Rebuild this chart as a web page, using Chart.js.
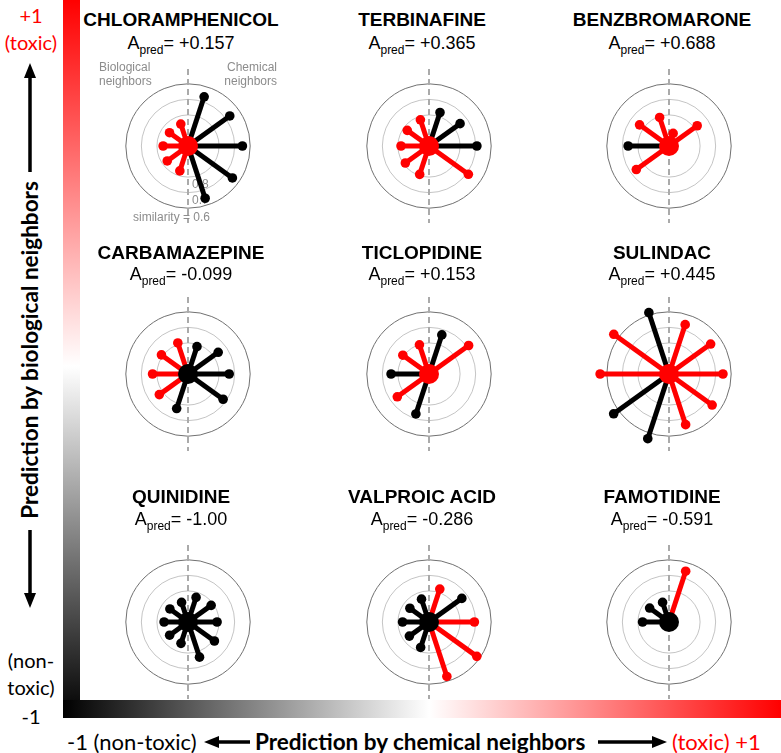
<!DOCTYPE html>
<html>
<head>
<meta charset="utf-8">
<script src="https://cdn.jsdelivr.net/npm/chart.js@4"></script>
<style>
  body { margin: 0; background: #fff; }
  #page { position: relative; width: 781px; height: 753px; overflow: hidden; font-family: Arial, "Liberation Sans", sans-serif; }
  .panel { position: absolute; width: 220px; height: 200px; }
  .name, .apred { position: absolute; width: 240px; text-align: center; line-height: 20px; color: #000; white-space: nowrap; }
  .name { font-weight: bold; font-size: 19px; }
  .apred { font-size: 18px; }
  .apred sub { font-size: 12px; vertical-align: -5px; line-height: 0; }
  .bar { position: absolute; z-index: 2; }
  .side { position: absolute; font-family: Lato, "Open Sans", sans-serif; font-size: 20px; line-height: 22px; text-align: center; white-space: nowrap; }
  .bottom { font-size: 22px; }
  .red { color: #ff0000; }
  svg { position: absolute; left: 0; top: 0; z-index: 3; }
</style>
</head>
<body>
<div id="page">
  <div class="bar" style="left:63px;top:0;width:17px;height:718px;background:linear-gradient(to bottom,#ff0000 0%,#ffffff 51%,#000000 100%);"></div>
  <div class="bar" style="left:63px;top:700px;width:718px;height:18px;background:linear-gradient(to right,#000000 0%,#ffffff 51%,#ff0000 100%);"></div>

  <div class="side red" style="left:0;top:4px;width:62px;">+1</div>
  <div class="side red" style="left:0;top:31px;width:62px;">(toxic)</div>
  <div class="side" style="left:0;top:649px;width:62px;">(non-</div>
  <div class="side" style="left:0;top:676px;width:62px;">toxic)</div>
  <div class="side" style="left:0;top:705px;width:62px;">-1</div>
  <div class="side" style="left:30px;top:350px;width:0;height:0;">
    <div style="position:absolute;left:-200px;top:-12px;width:400px;font-weight:bold;font-size:22.5px;line-height:24px;transform:rotate(-90deg);">Prediction by biological neighbors</div>
  </div>

  <div class="side bottom" style="left:67px;top:731px;">-1 (non-toxic)</div>
  <div class="side bottom" style="left:255px;top:731px;font-weight:bold;font-size:22.5px;">Prediction by chemical neighbors</div>
  <div class="side bottom red" style="left:672px;top:731px;">(toxic) +1</div>

  <svg width="781" height="753">
    <line x1="30" y1="76" x2="30" y2="172" stroke="#000" stroke-width="3.5"/>
    <polygon points="30,63 24,78 36,78" fill="#000"/>
    <line x1="30" y1="530" x2="30" y2="596" stroke="#000" stroke-width="3.5"/>
    <polygon points="30,608 24,593 36,593" fill="#000"/>
    <line x1="216" y1="742" x2="250" y2="742" stroke="#000" stroke-width="3.5"/>
    <polygon points="204,742 219,736 219,748" fill="#000"/>
    <line x1="598" y1="742" x2="655" y2="742" stroke="#000" stroke-width="3.5"/>
    <polygon points="667,742 652,736 652,748" fill="#000"/>
  </svg>
</div>

<script>
const drugs = ['CHLORAMPHENICOL', 'TERBINAFINE', 'BENZBROMARONE',
               'CARBAMAZEPINE', 'TICLOPIDINE', 'SULINDAC',
               'QUINIDINE', 'VALPROIC ACID', 'FAMOTIDINE'];
const aPred = ['+0.157', '+0.365', '+0.688', '-0.099', '+0.153', '+0.445', '-1.00', '-0.286', '-0.591'];

// chemical neighbours, right half, top to bottom (null = no neighbour)
const chemSim = [
  [0.664, 0.668, 0.650, 0.647, 0.643],
  [0.771, 0.753, 0.692, 0.687, null],
  [0.914, 0.776, null, null, null],
  [0.813, 0.760, 0.735, 0.721, null],
  [0.733, 0.685, null, null, null],
  [0.663, 0.669, 0.653, 0.657, 0.654],
  [0.832, 0.816, 0.813, 0.790, 0.760],
  [0.775, 0.739, 0.708, 0.620, 0.628],
  [0.653, null, null, null, null]
];
const chemToxic = [
  [0, 0, 0, 0, 0],
  [0, 0, 0, 1, 0],
  [1, 1, 0, 0, 0],
  [0, 0, 0, 0, 0],
  [0, 1, 0, 0, 0],
  [1, 1, 1, 1, 1],
  [0, 0, 0, 0, 0],
  [1, 0, 1, 1, 1],
  [1, 0, 0, 0, 0]
];
// biological neighbours, left half, top to bottom
const bioSim = [
  [0.850, 0.853, 0.840, 0.835, 0.830],
  [0.821, 0.827, 0.820, 0.812, 0.806],
  [0.805, 0.766, 0.737, 0.740, null],
  [0.788, 0.789, 0.772, 0.772, 0.764],
  [0.801, 0.792, 0.756, 0.748, 0.727],
  [0.581, 0.561, 0.557, 0.560, 0.558],
  [0.866, 0.856, 0.846, 0.854, 0.854],
  [0.844, 0.848, 0.830, 0.844, 0.826],
  [0.866, 0.846, 0.830, null, null]
];
const bioToxic = [
  [1, 1, 1, 1, 1],
  [1, 1, 1, 1, 1],
  [1, 1, 0, 1, 0],
  [1, 1, 1, 1, 0],
  [1, 1, 0, 1, 0],
  [0, 1, 1, 0, 0],
  [0, 0, 0, 0, 0],
  [0, 0, 0, 0, 0],
  [0, 0, 0, 0, 0]
];
const simRings = [0.8, 0.7, 0.6];

// layout
const colX = [188, 429, 669];
const rowY = [146, 374, 622];
const nameY = [20, 253, 497];
const apredY = [43, 274, 519];
const W = 220, H = 200, PX = 171;   // PX = pixels per unit of (1 - similarity)
const RED = '#ff0000', BLACK = '#000000';

const page = document.getElementById('page');

const ringPlugin = {
  id: 'rings',
  beforeDatasetsDraw(chart) {
    const ctx = chart.ctx, xs = chart.scales.x, ys = chart.scales.y;
    const cx = xs.getPixelForValue(0), cy = ys.getPixelForValue(0);
    ctx.save();
    simRings.forEach((s, k) => {
      const r = xs.getPixelForValue(1 - s) - cx;
      ctx.beginPath();
      ctx.arc(cx, cy, r, 0, Math.PI * 2);
      ctx.lineWidth = 1;
      ctx.strokeStyle = k === simRings.length - 1 ? '#707070' : '#c4c4c4';
      ctx.stroke();
    });
    ctx.beginPath();
    ctx.setLineDash([6, 4]);
    ctx.lineWidth = 2;
    ctx.strokeStyle = '#aaaaaa';
    ctx.moveTo(cx, ys.getPixelForValue(0.5));
    ctx.lineTo(cx, ys.getPixelForValue(-0.5));
    ctx.stroke();
    ctx.setLineDash([]);
    if (chart.options.plugins.rings.labels) {
      ctx.fillStyle = '#8c8c8c';
      ctx.font = '12px Arial, "Liberation Sans", sans-serif';
      ctx.textBaseline = 'middle';
      ctx.textAlign = 'left';
      ctx.fillText('Biological', cx - 89, cy - 78);
      ctx.fillText('neighbors', cx - 89, cy - 64);
      ctx.textAlign = 'right';
      ctx.fillText('Chemical', cx + 89, cy - 78);
      ctx.fillText('neighbors', cx + 89, cy - 64);
      ctx.textAlign = 'left';
      const y8 = ys.getPixelForValue(-(1 - simRings[0]));
      const y7 = ys.getPixelForValue(-(1 - simRings[1]));
      const y6 = ys.getPixelForValue(-(1 - simRings[2]));
      ctx.fillText(String(simRings[0]), cx + 4, y8 + 8);
      ctx.fillText(String(simRings[1]), cx + 4, y7 + 9);
      ctx.textAlign = 'right';
      ctx.fillText('similarity = ' + simRings[2], cx + 22, y6 + 10);
    }
    ctx.restore();
  }
};

function spoke(sim, toxic, deg) {
  const r = 1 - sim, a = deg * Math.PI / 180;
  const c = toxic ? RED : BLACK;
  return {
    data: [{ x: 0, y: 0 }, { x: r * Math.cos(a), y: r * Math.sin(a) }],
    showLine: true,
    borderColor: c,
    borderWidth: 5,
    pointRadius: [0, 4.8],
    pointBackgroundColor: c,
    pointBorderWidth: 0,
    clip: false
  };
}

drugs.forEach((name, i) => {
  const cx = colX[i % 3], cy = rowY[Math.floor(i / 3)], row = Math.floor(i / 3);

  const n = document.createElement('div');
  n.className = 'name';
  n.style.left = (cx - 127) + 'px';
  n.style.top = (nameY[row] - 10) + 'px';
  n.textContent = name;
  page.appendChild(n);

  const a = document.createElement('div');
  a.className = 'apred';
  a.style.left = (cx - 127) + 'px';
  a.style.top = (apredY[row] - 10) + 'px';
  a.innerHTML = 'A<sub>pred</sub>= ' + aPred[i];
  page.appendChild(a);

  const holder = document.createElement('div');
  holder.className = 'panel';
  holder.style.left = (cx - W / 2) + 'px';
  holder.style.top = (cy - H / 2) + 'px';
  const cv = document.createElement('canvas');
  cv.width = W; cv.height = H;
  holder.appendChild(cv);
  page.appendChild(holder);

  const centerColor = parseFloat(aPred[i]) > 0 ? RED : BLACK;
  const datasets = [{
    data: [{ x: 0, y: 0 }],
    pointRadius: 10,
    pointBackgroundColor: centerColor,
    pointBorderWidth: 0,
    clip: false
  }];
  chemSim[i].forEach((s, k) => { if (s !== null) datasets.push(spoke(s, chemToxic[i][k], 72 - 36 * k)); });
  bioSim[i].forEach((s, k) => { if (s !== null) datasets.push(spoke(s, bioToxic[i][k], 108 + 36 * k)); });

  new Chart(cv, {
    type: 'scatter',
    data: { datasets },
    options: {
      responsive: false,
      animation: false,
      events: [],
      layout: { padding: 0 },
      plugins: { legend: { display: false }, tooltip: { enabled: false }, rings: { labels: i === 0 } },
      scales: {
        x: { type: 'linear', display: false, min: -W / 2 / PX, max: W / 2 / PX },
        y: { type: 'linear', display: false, min: -H / 2 / PX, max: H / 2 / PX }
      }
    },
    plugins: [ringPlugin]
  });
});
</script>
</body>
</html>
